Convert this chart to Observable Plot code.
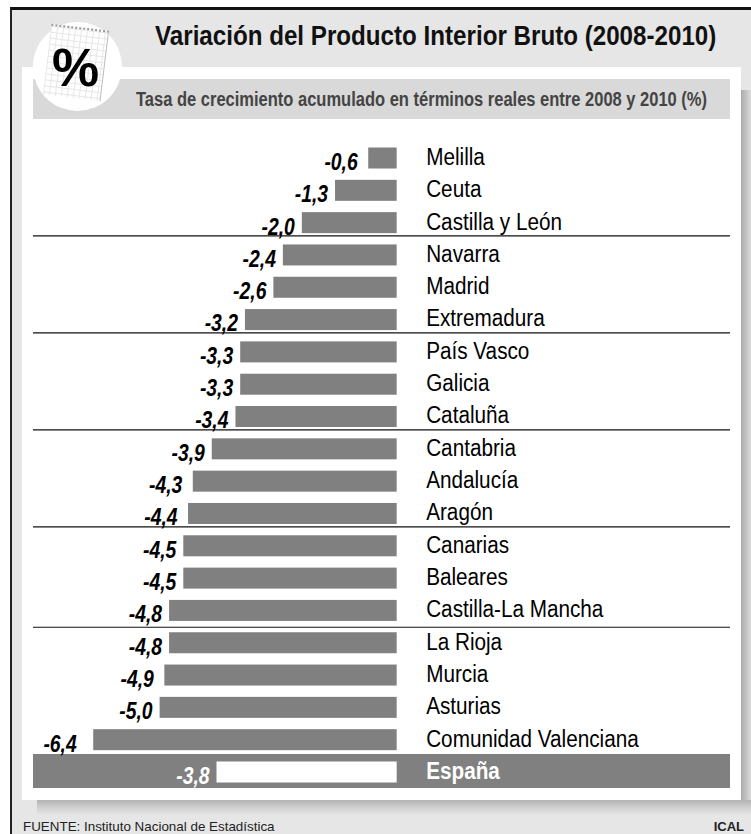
<!DOCTYPE html>
<html lang="es">
<head>
<meta charset="utf-8">
<script src="https://cdn.jsdelivr.net/npm/d3@7"></script>
<script src="https://cdn.jsdelivr.net/npm/@observablehq/plot@0.6"></script>
<style>
html,body{margin:0;padding:0;background:#fff}
#page{position:relative;width:751px;height:834px;overflow:hidden;font-family:"Liberation Sans",Arial,sans-serif}
#page>*{position:absolute}
#frame{left:10px;top:7px;width:741px;height:827px;background:#e6e6e6;border-top:3px solid #111;border-left:2px solid #222;box-sizing:border-box}
#shadowR{left:741px;top:90px;width:10px;height:722px;background:linear-gradient(90deg,#aaa,#c8c8c8 60%,#dcdcdc)}
#shadowB{left:37px;top:800px;width:714px;height:15px;background:linear-gradient(180deg,#b4b4b4,#cfcfcf 50%,#e6e6e6)}
#panel{left:22px;top:67px;width:719px;height:733px;background:#fff}
#band{left:33px;top:79px;width:697px;height:40px;background:#d9d9d9}
#disc{left:33px;top:22px;width:89px;height:89px;border-radius:50%;background:#fff}
#note{left:47px;top:27px;width:58px;height:71px;transform:rotate(7deg);background-color:#fff;
 background-image:linear-gradient(#e6e6e6 1px,transparent 1px),linear-gradient(90deg,#e6e6e6 1px,transparent 1px);background-size:6px 6px;
 border-top:2px dotted #999;border-right:1px solid #bbb;box-sizing:border-box}
#pct{left:52px;top:33px;font-weight:700;font-size:53px;line-height:70px;color:#000}
#title{left:155px;top:20px;font-weight:700;font-size:27px;line-height:32px;color:#111;white-space:nowrap;transform-origin:0 0;transform:scaleX(.895)}
#sub{left:136px;top:88px;font-weight:700;font-size:20px;line-height:22px;color:#444;white-space:nowrap;transform-origin:0 0;transform:scaleX(.825)}
#src{left:23px;top:819px;font-size:13.4px;line-height:15px;color:#222;white-space:nowrap}
#ical{right:7px;top:819px;font-size:13px;line-height:15px;font-weight:700;color:#222}
#chart{left:0;top:0}
</style>
</head>
<body>
<div id="page">
  <div id="frame"></div>
  <div id="shadowR"></div>
  <div id="shadowB"></div>
  <div id="panel"></div>
  <div id="band"></div>
  <div id="disc"></div>
  <div id="note"></div>
  <div id="pct">%</div>
  <div id="title">Variación del Producto Interior Bruto (2008-2010)</div>
  <div id="sub">Tasa de crecimiento acumulado en términos reales entre 2008 y 2010 (%)</div>
  <div id="chart"></div>
  <div id="src">FUENTE: Instituto Nacional de Estadística</div>
  <div id="ical">ICAL</div>
</div>
<script>
const regions = ["Melilla","Ceuta","Castilla y León","Navarra","Madrid","Extremadura","País Vasco","Galicia","Cataluña","Cantabria","Andalucía","Aragón","Canarias","Baleares","Castilla-La Mancha","La Rioja","Murcia","Asturias","Comunidad Valenciana","España"];
const growth = [-0.6,-1.3,-2.0,-2.4,-2.6,-3.2,-3.3,-3.3,-3.4,-3.9,-4.3,-4.4,-4.5,-4.5,-4.8,-4.8,-4.9,-5.0,-6.4,-3.8];
const groupStarts = ["Navarra","País Vasco","Cantabria","Canarias"];
const lastGroupStart = ["La Rioja"];
const total = "España";
const looseLabels = ["Melilla","Andalucía","Aragón","Murcia"];
const loosestLabels = ["Comunidad Valenciana"];

const rows = regions.map((region, i) => ({region, value: growth[i]}));
const isTotal = d => d.region === total;
const fmt = v => v.toFixed(1).replace(".", ",");
const font = '"Liberation Sans",Arial,sans-serif';

const valueMark = (filter, dx) => Plot.text(rows, {
  filter, y: "region", x: "value", text: d => fmt(d.value),
  textAnchor: "end", dx, dy: 4, fontSize: 23, fontStyle: "italic",
  fontWeight: 700, fill: d => isTotal(d) ? "#fff" : "#000", className: "val"
});
const nameMark = (filter, fontWeight, fill) => Plot.text(rows, {
  filter, y: "region", x: () => 0, text: "region",
  textAnchor: "start", dx: 29, dy: -1, fontSize: 23, fontWeight, fill, className: "lab"
});

const plot = Plot.plot({
  width: 751, height: 834,
  marginLeft: 33, marginRight: 21, marginTop: 147.5, marginBottom: 51.5,
  style: {background: "transparent", fontFamily: font},
  x: {domain: [-7.67, 7.03], axis: null},
  y: {domain: regions, paddingInner: 0.35, paddingOuter: 0, round: false, axis: null},
  marks: [
    Plot.cell([total], {y: d => d, fill: "#808080", insetTop: -7.5, insetBottom: -5.5}),
    Plot.ruleY(groupStarts, {y: d => d, dy: -19.5, stroke: "#111", strokeWidth: 1.2}),
    Plot.ruleY(lastGroupStart, {y: d => d, dy: -16, stroke: "#111", strokeWidth: 1.2}),
    Plot.barX(rows, {y: "region", x1: 0, x2: "value", fill: d => isTotal(d) ? "#fff" : "#808080"}),
    valueMark(d => !looseLabels.includes(d.region) && !loosestLabels.includes(d.region), -7.5),
    valueMark(d => looseLabels.includes(d.region), -11),
    valueMark(d => loosestLabels.includes(d.region), -17),
    nameMark(d => !isTotal(d), 400, "#000"),
    nameMark(isTotal, 700, "#fff")
  ]
});
document.getElementById("chart").appendChild(plot);
// the original type is condensed: narrow the glyphs, keeping real text
const squeeze = (sel, k) => plot.querySelectorAll(sel).forEach(t => {
  t.setAttribute("textLength", t.getComputedTextLength() * k);
  t.setAttribute("lengthAdjust", "spacingAndGlyphs");
});
squeeze(".val text", 0.84);
squeeze(".lab text", 0.9);
</script>
</body>
</html>
